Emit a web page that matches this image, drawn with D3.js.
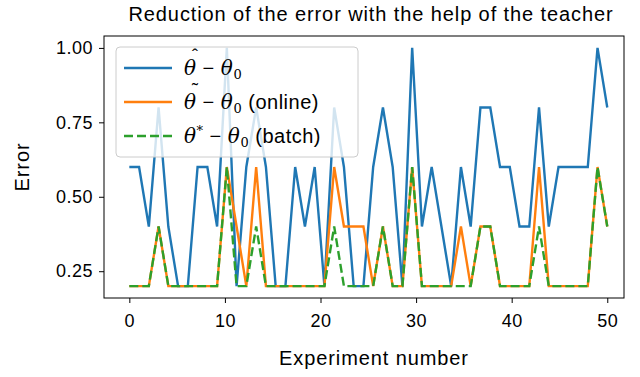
<!DOCTYPE html>
<meta charset="utf-8">
<head>
  <title>Error reduction</title>
</head>

<style>
body { margin: 0; background: white; }
text {
  font-family: "Liberation Sans", Arial, sans-serif;
  fill: black;
}
.tick text { font-size: 18px; letter-spacing: 0.5px; }
.math { font-family: "DejaVu Serif", serif; font-style: italic; }
</style>

<body>
  <svg width="640" height="377"></svg>

  <script src="https://cdnjs.cloudflare.com/ajax/libs/d3/7.8.5/d3.min.js"></script>
  <script>
// experiment number (50 runs spread over 0..50)
var experiment = [0, 1.02, 2.04, 3.06, 4.08, 5.10, 6.12, 7.14, 8.16, 9.18,
  10.20, 11.22, 12.24, 13.27, 14.29, 15.31, 16.33, 17.35, 18.37, 19.39,
  20.41, 21.43, 22.45, 23.47, 24.49, 25.51, 26.53, 27.55, 28.57, 29.59,
  30.61, 31.63, 32.65, 33.67, 34.69, 35.71, 36.73, 37.76, 38.78, 39.80,
  40.82, 41.84, 42.86, 43.88, 44.90, 45.92, 46.94, 47.96, 48.98, 50.00];

var errHat = [0.6, 0.6, 0.4, 0.8, 0.4, 0.2, 0.2, 0.6, 0.6, 0.4,
  1.0, 0.2, 0.6, 0.8, 0.6, 0.2, 0.2, 0.6, 0.4, 0.6,
  0.2, 0.8, 0.6, 0.2, 0.2, 0.6, 0.8, 0.6, 0.2, 1.0,
  0.4, 0.6, 0.4, 0.2, 0.6, 0.4, 0.8, 0.8, 0.6, 0.6,
  0.4, 0.4, 0.8, 0.4, 0.6, 0.6, 0.6, 0.6, 1.0, 0.8];

var errOnline = [0.2, 0.2, 0.2, 0.4, 0.2, 0.2, 0.2, 0.2, 0.2, 0.2,
  0.6, 0.4, 0.2, 0.6, 0.2, 0.2, 0.2, 0.2, 0.2, 0.2,
  0.2, 0.6, 0.4, 0.4, 0.4, 0.2, 0.4, 0.2, 0.2, 0.6,
  0.2, 0.2, 0.2, 0.2, 0.4, 0.2, 0.4, 0.4, 0.2, 0.2,
  0.2, 0.2, 0.6, 0.2, 0.2, 0.2, 0.2, 0.2, 0.6, 0.4];

var errBatch = [0.2, 0.2, 0.2, 0.4, 0.2, 0.2, 0.2, 0.2, 0.2, 0.2,
  0.6, 0.2, 0.2, 0.4, 0.2, 0.2, 0.2, 0.2, 0.2, 0.2,
  0.2, 0.4, 0.2, 0.2, 0.2, 0.2, 0.4, 0.2, 0.2, 0.6,
  0.2, 0.2, 0.2, 0.2, 0.2, 0.2, 0.4, 0.4, 0.2, 0.2,
  0.2, 0.2, 0.4, 0.2, 0.2, 0.2, 0.2, 0.2, 0.6, 0.4];

var xTicks = [0, 10, 20, 30, 40, 50];
var yTicks = [0.25, 0.50, 0.75, 1.00];

var padL = 104, padR = 624, padT = 36, padB = 298;

var svg = d3.select('svg');

var x = d3.scaleLinear().domain([-2.65, 51.75]).range([padL, padR]);
var y = d3.scaleLinear().domain([0.16, 1.04]).range([padB, padT]);

var line = function(vals) {
  return d3.line()
    .x(function(d, i) { return x(experiment[i]); })
    .y(function(d) { return y(d); })(vals);
};

var series = [
  {vals: errHat, color: '#1f77b4', dash: null},
  {vals: errOnline, color: '#ff7f0e', dash: null},
  {vals: errBatch, color: '#2ca02c', dash: '9,4'}
];

svg.append('g')
  .selectAll('path')
  .data(series)
  .enter()
  .append('path')
  .attr('d', function(s) { return line(s.vals); })
  .attr('fill', 'none')
  .attr('stroke', function(s) { return s.color; })
  .attr('stroke-width', 2.4)
  .attr('stroke-linejoin', 'miter')
  .attr('stroke-dasharray', function(s) { return s.dash; });

// axes
var xAxis = svg.append('g')
  .attr('transform', 'translate(0,' + padB + ')')
  .call(d3.axisBottom(x).tickValues(xTicks).tickSize(5).tickPadding(9));
var yAxis = svg.append('g')
  .attr('transform', 'translate(' + padL + ',0)')
  .call(d3.axisLeft(y).tickValues(yTicks).tickSize(5).tickPadding(6)
    .tickFormat(d3.format('.2f')));

[xAxis, yAxis].forEach(function(a) {
  a.select('.domain').remove();
  a.selectAll('.tick line').attr('stroke', 'black').attr('stroke-width', 1);
  a.selectAll('.tick text').attr('font-family', null).attr('font-size', null);
});
xAxis.selectAll('.tick text').attr('dy', '0.85em');

svg.append('rect')
  .attr('x', padL).attr('y', padT)
  .attr('width', padR - padL).attr('height', padB - padT)
  .attr('fill', 'none').attr('stroke', 'black').attr('stroke-width', 1);

// labels
svg.append('text')
  .attr('x', 371).attr('y', 21)
  .attr('text-anchor', 'middle').attr('font-size', 20)
  .attr('letter-spacing', 0.9)
  .text('Reduction of the error with the help of the teacher');

svg.append('text')
  .attr('x', 374).attr('y', 365)
  .attr('text-anchor', 'middle').attr('font-size', 20)
  .attr('letter-spacing', 0.9)
  .text('Experiment number');

svg.append('text')
  .attr('transform', 'translate(29,' + ((padT + padB) / 2) + ') rotate(-90)')
  .attr('text-anchor', 'middle').attr('font-size', 20)
  .attr('letter-spacing', 0.9)
  .text('Error');

// legend
var legend = svg.append('g').attr('transform', 'translate(116,47)');
legend.append('rect')
  .attr('width', 242).attr('height', 110)
  .attr('rx', 4)
  .attr('fill', 'white').attr('fill-opacity', 0.8)
  .attr('stroke', '#cccccc').attr('stroke-width', 1);

var labels = [
  {acc: '\u02c6', sup: '', tail: ''},
  {acc: '\u02dc', sup: '', tail: ' (online)'},
  {acc: '', sup: '*', tail: ' (batch)'}
];

var entry = legend.selectAll('g.entry')
  .data(series)
  .enter()
  .append('g')
  .attr('class', 'entry')
  .attr('transform', function(d, i) { return 'translate(0,' + (21 + i * 34) + ')'; });

entry.append('line')
  .attr('x1', 8).attr('x2', 56)
  .attr('stroke', function(s) { return s.color; })
  .attr('stroke-width', 2.4)
  .attr('stroke-dasharray', function(s) { return s.dash; });

entry.each(function(s, i) {
  var g = d3.select(this);
  var l = labels[i];
  if (l.acc) {
    g.append('text')
      .attr('x', 79).attr('y', -6)
      .attr('text-anchor', 'middle')
      .attr('font-family', 'DejaVu Serif').attr('font-size', 18)
      .text(l.acc);
  }
  var t = g.append('text').attr('x', 68).attr('dy', 7).attr('font-size', 20)
    .attr('letter-spacing', 0.5);
  t.append('tspan').attr('class', 'math').text('\u03b8');
  if (l.sup) t.append('tspan').attr('font-family', 'DejaVu Serif').attr('font-size', 13).attr('dy', -8).text('*');
  t.append('tspan').attr('dy', l.sup ? 8 : 0).text(' \u2212 ');
  t.append('tspan').attr('class', 'math').text('\u03b8');
  t.append('tspan').attr('font-family', 'DejaVu Serif').attr('font-size', 13).attr('dy', 4).text('0');
  t.append('tspan').attr('dy', -4).text(l.tail);
});
  </script>
</body>
</html>
